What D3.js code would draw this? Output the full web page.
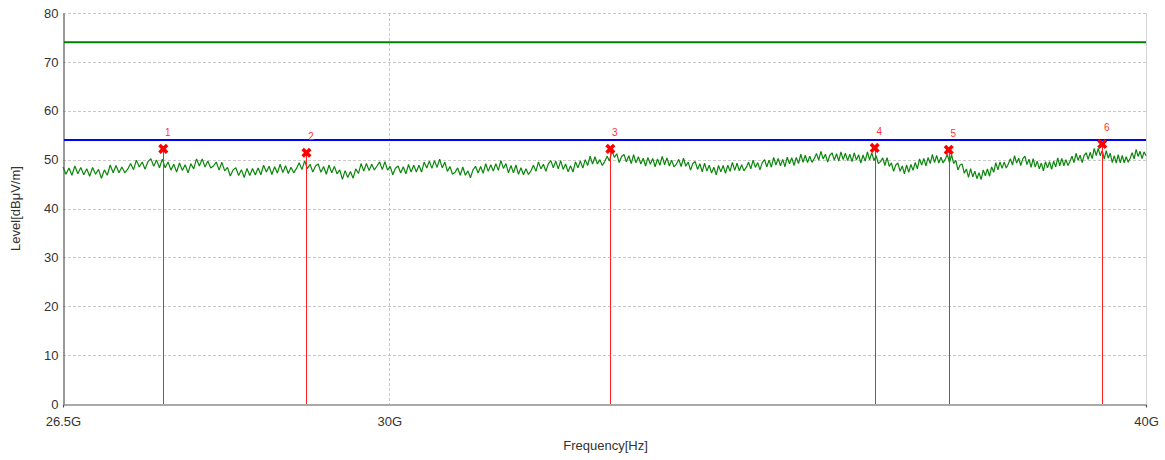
<!DOCTYPE html>
<html>
<head>
<meta charset="utf-8">
<script src="https://cdn.jsdelivr.net/npm/d3@7"></script>
<style>
  html, body { margin: 0; padding: 0; background: #fff; }
  svg { display: block; font-family: "Liberation Sans", Arial, sans-serif; }
</style>
</head>
<body>
<svg id="chart" width="1165" height="460"></svg>
<script>
// Frequency axis (Hz) and its labels
const xTickValues = [26.5e9, 30e9, 40e9];
const xTickLabels = ["26.5G", "30G", "40G"];
// Level axis (dBµV/m)
const yTickValues = [0, 10, 20, 30, 40, 50, 60, 70, 80];

// Limit lines
const limitNames = ["Peak limit", "Average limit"];
const limitLevels = [74, 54];
const limitColors = ["#008000", "#0000ff"];

// Measured trace: one reading every 30 MHz from 26.5 GHz to 40 GHz
const traceStartGHz = 26.5;
const traceStepGHz = 0.03;
const traceLevels = [
  48.5, 47.0, 48.3, 46.8, 48.7, 47.1, 48.4, 46.9, 48.15, 46.6,
  48.4, 47.0, 48.0, 46.2, 47.9, 46.8, 48.9, 47.3, 48.8, 47.3,
  48.5, 47.3, 48.05, 49.2, 47.95, 49.9, 48.5, 49.5, 48.05, 49.6,
  50.2, 48.65, 49.9, 48.35, 50.1, 48.35, 49.5, 47.85, 49.05, 47.45,
  49.3, 47.8, 48.95, 47.3, 49.15, 48.1, 50.15, 48.7, 50.15, 48.5,
  49.7, 48.3, 48.7, 49.5, 47.85, 49.45, 47.7, 48.4, 46.65, 47.9,
  48.35, 46.75, 47.95, 46.35, 48.2, 46.75, 48.2, 46.85, 48.3, 46.9,
  48.85, 47.45, 48.65, 46.95, 48.55, 47.25, 49.05, 47.35, 48.75, 47.15,
  48.45, 47.3, 48.2, 49.35, 47.95, 49.75, 48.15, 49.05, 47.45, 48.7,
  49.1, 47.4, 48.6, 47.0, 48.9, 47.3, 48.6, 47.1, 47.9, 45.95,
  47.75, 46.35, 47.55, 46.2, 48.1, 47.15, 49.2, 47.65, 49.2, 47.75,
  49.05, 47.9, 48.7, 49.55, 47.95, 49.6, 47.85, 48.6, 46.9, 48.25,
  48.7, 47.25, 48.55, 47.1, 49.0, 47.45, 48.85, 47.45, 48.85, 47.45,
  49.5, 48.3, 49.7, 48.2, 49.8, 48.4, 50.1, 48.3, 49.5, 47.6,
  48.6, 47.0, 47.45, 48.3, 46.8, 48.5, 46.8, 47.7, 46.3, 47.9,
  48.65, 47.25, 48.6, 47.2, 49.15, 47.6, 48.95, 47.65, 49.15, 47.8,
  49.8, 48.2, 49.2, 47.3, 48.8, 47.3, 48.9, 47.0, 48.35, 46.9,
  48.15, 46.95, 47.7, 48.85, 47.6, 49.55, 48.1, 49.05, 47.6, 49.15,
  49.8, 48.35, 49.7, 48.1, 49.8, 48.0, 49.1, 47.5, 48.75, 47.45,
  49.55, 48.35, 49.75, 48.25, 50.0, 48.8, 50.7, 49.1, 50.6, 49.1,
  50.0, 48.8, 49.6, 50.7, 49.7, 51.9, 50.45, 51.2, 49.4, 50.65,
  51.05, 49.55, 50.8, 49.2, 51.0, 49.35, 50.6, 49.1, 50.3, 48.7,
  50.45, 49.05, 50.25, 48.55, 50.15, 48.85, 50.65, 48.95, 50.35, 48.7,
  49.9, 48.5, 49.1, 50.05, 48.6, 50.3, 48.65, 49.5, 47.85, 49.2,
  49.6, 48.0, 49.15, 47.5, 49.3, 47.65, 48.85, 47.25, 48.45, 46.9,
  48.8, 47.5, 48.8, 47.2, 48.85, 47.6, 49.45, 47.8, 49.25, 47.7,
  48.95, 47.7, 48.4, 49.45, 48.1, 49.9, 48.4, 49.4, 47.9, 49.4,
  50.0, 48.55, 49.9, 48.45, 50.45, 48.9, 50.25, 48.75, 50.05, 48.55,
  50.5, 49.15, 50.4, 48.8, 50.45, 49.2, 51.1, 49.45, 50.9, 49.4,
  50.7, 49.45, 50.2, 51.25, 49.9, 51.7, 50.15, 51.1, 49.5, 50.9,
  51.4, 49.9, 51.2, 49.7, 51.6, 50.0, 51.3, 49.8, 51.1, 49.6,
  51.4, 49.9, 51.0, 49.3, 50.95, 49.7, 51.6, 49.95, 51.4, 49.8,
  50.8, 49.2, 49.6, 50.35, 48.8, 50.4, 48.6, 49.35, 47.6, 48.9,
  49.3, 47.6, 48.7, 47.1, 48.9, 47.4, 49.0, 47.8, 49.4, 48.1,
  50.15, 48.9, 50.25, 48.7, 50.45, 49.2, 51.05, 49.4, 50.85, 49.3,
  50.5, 49.3, 50.05, 51.05, 49.4, 51.0, 49.2, 49.85, 47.9, 48.9,
  49.1, 47.2, 48.1, 46.35, 48.15, 46.45, 47.65, 46.1, 47.35, 45.9,
  47.9, 46.7, 48.1, 46.6, 48.5, 47.4, 49.4, 47.9, 49.55, 48.2,
  49.5, 48.3, 49.1, 50.2, 48.9, 50.8, 49.3, 50.3, 48.8, 50.2,
  50.7, 49.0, 50.1, 48.4, 50.2, 48.5, 49.7, 48.1, 49.3, 47.7,
  49.6, 48.3, 49.6, 48.0, 49.7, 48.5, 50.35, 48.75, 50.25, 48.75,
  50.0, 48.8, 49.6, 50.7, 49.4, 51.3, 49.85, 50.9, 49.4, 50.85,
  51.4, 50.05, 51.5, 50.2, 52.3, 50.85, 52.3, 50.8, 51.9, 50.1,
  51.85, 50.3, 51.3, 49.4, 50.8, 49.3, 51.0, 49.35, 50.85, 49.35,
  50.6, 49.45, 50.3, 51.4, 50.15, 52.1, 50.65, 51.7, 50.2, 51.6,
  50.8
];

// Peak markers
const markerIds = ["1", "2", "3", "4", "5", "6"];
const markerFreqGHz = [27.53, 29.07, 32.63, 36.08, 37.11, 39.34];
const markerLevels = [52.2, 51.4, 52.2, 52.4, 52.0, 53.2];

const svg = d3.select("#chart");
const margin = { left: 63, right: 19, top: 13, bottom: 56 };
const W = 1165, H = 460;
const x0 = margin.left, x1 = W - margin.right;
const y0 = H - margin.bottom, y1 = margin.top;

const x = d3.scaleLog().domain([26.5e9, 40e9]).range([x0, x1]);
const y = d3.scaleLinear().domain([0, 80]).range([y0, y1]);

// Grid
const grid = svg.append("g");
grid.selectAll("line.h").data(yTickValues.filter(v => v > 0)).join("line")
  .attr("x1", x0).attr("x2", x1)
  .attr("y1", d => Math.round(y(d)) + 0.5).attr("y2", d => Math.round(y(d)) + 0.5)
  .attr("stroke", "#c8c8c8").attr("stroke-dasharray", "3,2");
grid.selectAll("line.v").data(xTickValues.slice(1, -1)).join("line")
  .attr("x1", d => Math.round(x(d)) + 0.5).attr("x2", d => Math.round(x(d)) + 0.5)
  .attr("y1", y1).attr("y2", y0)
  .attr("stroke", "#c8c8c8").attr("stroke-dasharray", "3,2");
grid.append("line")
  .attr("x1", x(40e9) + 0.5).attr("x2", x(40e9) + 0.5)
  .attr("y1", y1).attr("y2", y0)
  .attr("stroke", "#d4d4d4");

// Axes
const yAxis = d3.axisLeft(y).tickValues(yTickValues).tickSize(0).tickPadding(5);
const gy = svg.append("g").attr("transform", `translate(${x0 + 0.5},0)`).call(yAxis);
gy.select(".domain").attr("stroke", "#555").attr("stroke-width", 1.2);
gy.selectAll("text").attr("font-size", 13).attr("fill", "#333")
  .attr("font-family", "'Liberation Sans', Arial, sans-serif");

const xAxis = d3.axisBottom(x).tickValues(xTickValues)
  .tickFormat((d, i) => xTickLabels[i]).tickSize(0).tickSizeOuter(3).tickPadding(12);
const gx = svg.append("g").attr("transform", `translate(0,${y0 + 0.5})`).call(xAxis);
gx.select(".domain").attr("stroke", "#555").attr("stroke-width", 1.2);
gx.selectAll("text").attr("font-size", 13).attr("fill", "#333")
  .attr("font-family", "'Liberation Sans', Arial, sans-serif");

// Axis titles
svg.append("text")
  .attr("x", (x0 + x1) / 2 + 1).attr("y", 450)
  .attr("text-anchor", "middle").attr("font-size", 13).attr("fill", "#333")
  .text("Frequency[Hz]");
svg.append("text")
  .attr("transform", `translate(20,${(y0 + y1) / 2}) rotate(-90)`)
  .attr("text-anchor", "middle").attr("font-size", 13).attr("fill", "#333")
  .text("Level[dBμV/m]");

// Measured trace
const traceData = traceLevels.map((v, i) => ({
  f: (traceStartGHz + i * traceStepGHz) * 1e9, v
}));
svg.append("path")
  .datum(traceData)
  .attr("fill", "none")
  .attr("stroke", "#0b870b")
  .attr("stroke-width", 1.2)
  .attr("stroke-linejoin", "bevel")
  .attr("d", d3.line().x(d => x(d.f)).y(d => y(d.v)));

// Limit lines
svg.selectAll("line.limit").data(limitLevels).join("line")
  .attr("class", "limit")
  .attr("x1", x0 + 1).attr("x2", x1)
  .attr("y1", d => y(d)).attr("y2", d => y(d))
  .attr("stroke", (d, i) => limitColors[i]).attr("stroke-width", 2);

// Markers
const markers = markerIds.map((id, i) => ({
  id, f: markerFreqGHz[i] * 1e9, v: markerLevels[i]
}));
const mg = svg.append("g");
mg.selectAll("line").data(markers).join("line")
  .attr("x1", d => Math.round(x(d.f)) + 0.5).attr("x2", d => Math.round(x(d.f)) + 0.5)
  .attr("y1", d => y(d.v)).attr("y2", y0)
  .attr("stroke", "#ff2020").attr("stroke-width", 1);
mg.selectAll("path").data(markers).join("path")
  .attr("transform", d => `translate(${x(d.f)},${y(d.v)}) rotate(45)`)
  .attr("d", d3.symbol().type(d3.symbolCross).size(64)())
  .attr("fill", "#ff0000");
mg.selectAll("text").data(markers).join("text")
  .attr("x", d => x(d.f) + 4.5).attr("y", d => y(d.v) - 13)
  .attr("text-anchor", "middle").attr("font-size", 10).attr("fill", "#ff3333")
  .text(d => d.id);
</script>
</body>
</html>
